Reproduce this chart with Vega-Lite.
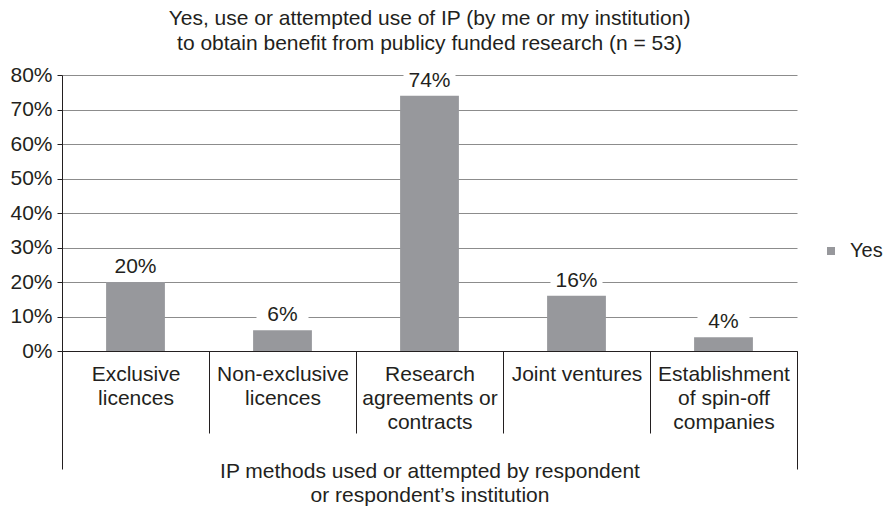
{
  "$schema": "https://vega.github.io/schema/vega-lite/v6.json",
  "width": 735,
  "height": 276,
  "autosize": "none",
  "padding": {"left": 62, "top": 75, "right": 89, "bottom": 157},
  "background": "white",
  "config": {
    "font": "Liberation Sans",
    "view": {"stroke": null},
    "axis": {"labelColor": "#231f20", "titleColor": "#231f20", "labelFont": "Liberation Sans", "titleFont": "Liberation Sans"}
  },
  "title": {
    "text": ["Yes, use or attempted use of IP (by me or my institution)", "to obtain benefit from publicy funded research (n = 53)"],
    "fontSize": 21,
    "fontWeight": "normal",
    "color": "#231f20",
    "anchor": "middle",
    "lineHeight": 25,
    "offset": 10
  },
  "data": {
    "values": [
      {"method": "Exclusive licences", "series": "Yes", "value": 0.20},
      {"method": "Non-exclusive licences", "series": "Yes", "value": 0.06},
      {"method": "Research agreements or contracts", "series": "Yes", "value": 0.74},
      {"method": "Joint ventures", "series": "Yes", "value": 0.16},
      {"method": "Establishment of spin-off companies", "series": "Yes", "value": 0.04}
    ]
  },
  "encoding": {
    "x": {
      "field": "method", "type": "nominal", "sort": null,
      "scale": {"paddingInner": 0, "paddingOuter": 0},
      "axis": {
        "title": ["IP methods used or attempted by respondent", "or respondent\u2019s institution"],
        "titleFontSize": 21, "titleFontWeight": "normal", "titleLineHeight": 24, "titlePadding": 27,
        "labelAngle": 0, "labelFontSize": 21, "labelLineHeight": 24, "labelPadding": -70,
        "labelExpr": "datum.value == 'Exclusive licences' ? ['Exclusive','licences'] : datum.value == 'Non-exclusive licences' ? ['Non-exclusive','licences'] : datum.value == 'Research agreements or contracts' ? ['Research','agreements or','contracts'] : datum.value == 'Establishment of spin-off companies' ? ['Establishment','of spin-off','companies'] : datum.value",
        "tickBand": "extent", "tickSize": 82, "tickColor": "#231f20",
        "domainColor": "#231f20", "grid": false
      }
    },
    "y": {
      "field": "value", "type": "quantitative",
      "scale": {"domain": [0, 0.8], "nice": false},
      "axis": {
        "title": null, "format": ".0%", "values": [0, 0.1, 0.2, 0.3, 0.4, 0.5, 0.6, 0.7, 0.8],
        "labelFontSize": 21, "labelPadding": 5, "tickSize": 5, "tickColor": "#231f20",
        "domainColor": "#231f20", "grid": true, "gridColor": "#8c8c8c", "labelOverlap": false
      }
    }
  },
  "layer": [
    {
      "mark": {"type": "bar", "width": {"band": 0.4}},
      "encoding": {
        "color": {
          "field": "series", "type": "nominal",
          "scale": {"range": ["#97989c"]},
          "legend": {
            "title": null, "orient": "none", "legendX": 759, "legendY": 166,
            "symbolType": "square", "symbolSize": 64, "labelFontSize": 20, "labelColor": "#231f20", "labelOffset": 9
          }
        }
      }
    },
    {
      "mark": {"type": "point", "shape": "M-1,-0.35L1,-0.35L1,0.35L-1,0.35Z", "filled": true, "color": "white", "opacity": 1, "size": 2704, "yOffset": -15},
      "encoding": {
        "x": {"field": "method", "type": "nominal", "sort": null,
          "axis": {"values": ["Exclusive licences"], "orient": "bottom", "bandPosition": 0, "tickSize": 118, "tickColor": "#231f20", "labels": false, "domain": false, "title": null, "grid": false}}
      }
    },
    {
      "mark": {"type": "text", "fontSize": 21, "yOffset": -15, "color": "#231f20"},
      "encoding": {
        "x": {"field": "method", "type": "nominal", "sort": null,
          "axis": {"values": ["Establishment of spin-off companies"], "orient": "bottom", "bandPosition": 1, "tickSize": 118, "tickColor": "#231f20", "labels": false, "domain": false, "title": null, "grid": false}},
        "text": {"field": "value", "type": "quantitative", "format": ".0%"}
      }
    }
  ],
  "resolve": {"axis": {"x": "independent"}}
}
